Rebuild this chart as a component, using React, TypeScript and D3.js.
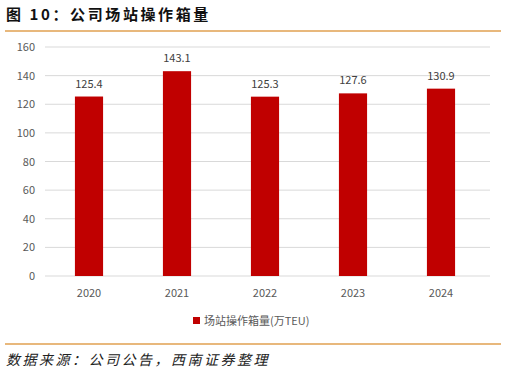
import React from "react";
import * as d3 from "d3";

const categories = ["2020", "2021", "2022", "2023", "2024"];
const values = [125.4, 143.1, 125.3, 127.6, 130.9];
const yTicks = [0, 20, 40, 60, 80, 100, 120, 140, 160];
const seriesName = "场站操作箱量(万TEU)";
const title = "图 10：公司场站操作箱量";
const source = "数据来源：公司公告，西南证券整理";

export default function App() {
  const W = 507, H = 376;
  const x = d3.scaleBand<string>().domain(categories).range([45, 485]).paddingInner(0.68).paddingOuter(0.34);
  const y = d3.scaleLinear().domain([0, 160]).range([276, 47]);
  const font = "'Noto Sans CJK SC', 'Noto Sans', sans-serif";
  return (
    <svg width={W} height={H} style={{ position: "absolute", left: 0, top: 0 }} fontFamily={font}>
      <rect width={W} height={H} fill="#fff" />
      <text x={6} y={20} fontSize={15} fontWeight="bold" fill="#111" letterSpacing={2.6}>{title}</text>
      <line x1={5} x2={501} y1={31} y2={31} stroke="#E0A050" strokeWidth={1.5} />
      {yTicks.map((t) => (
        <g key={t}>
          <line x1={45} x2={490} y1={y(t)} y2={y(t)} stroke="#D9D9D9" strokeWidth={1} />
          <text x={35} y={y(t) + 4} textAnchor="end" fontSize={11} fill="#595959">{t}</text>
        </g>
      ))}
      {categories.map((c, i) => (
        <g key={c}>
          <rect x={x(c)} y={y(values[i])} width={x.bandwidth()} height={y(0) - y(values[i])} fill="#C00000" />
          <text x={(x(c) as number) + x.bandwidth() / 2} y={y(values[i]) - 9} textAnchor="middle" fontSize={11} fill="#404040">{values[i].toFixed(1)}</text>
          <text x={(x(c) as number) + x.bandwidth() / 2} y={297} textAnchor="middle" fontSize={11} fill="#595959">{c}</text>
        </g>
      ))}
      <rect x={193} y={317} width={7} height={7} fill="#C00000" />
      <text x={204} y={325} fontSize={11} fill="#595959">{seriesName}</text>
      <line x1={5} x2={501} y1={344} y2={344} stroke="#E0A050" strokeWidth={1.5} />
      <text x={6} y={365} fontSize={14} fontStyle="italic" fill="#222" letterSpacing={2.5}>{source}</text>
    </svg>
  );
}
